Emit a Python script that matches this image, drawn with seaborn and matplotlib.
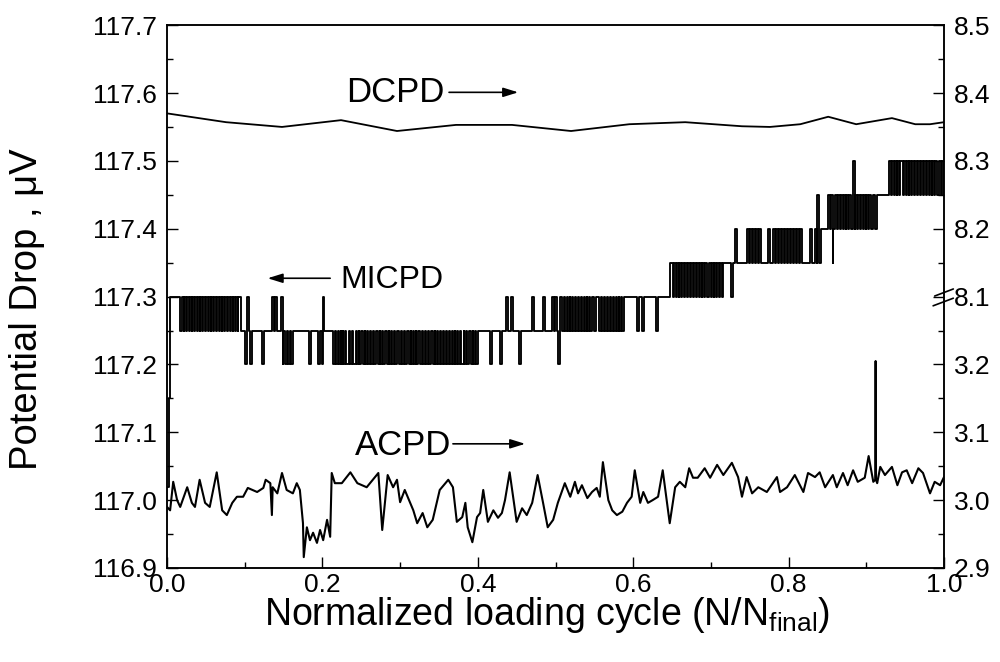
import matplotlib
matplotlib.use("Agg")
import matplotlib.pyplot as plt
import seaborn as sns
import pandas as pd

# ---------------- data ----------------
dcpd_x = [0.000, 0.076, 0.148, 0.224, 0.296, 0.372, 0.444, 0.520, 0.595, 0.667,
          0.740, 0.776, 0.815, 0.851, 0.887, 0.933, 0.963, 0.982, 1.000]
dcpd_y = [117.570, 117.557, 117.550, 117.560, 117.544, 117.553, 117.553, 117.544,
          117.554, 117.557, 117.551, 117.550, 117.554, 117.565, 117.554, 117.563,
          117.554, 117.554, 117.557]

acpd_x = [0.000, 0.004, 0.008, 0.013, 0.017, 0.026, 0.032, 0.036, 0.042, 0.049, 0.055,
          0.064, 0.071, 0.077, 0.084, 0.090, 0.098, 0.104, 0.116, 0.124, 0.127, 0.133,
          0.135, 0.136, 0.142, 0.148, 0.154, 0.162, 0.167, 0.171, 0.175, 0.176, 0.180,
          0.184, 0.188, 0.193, 0.197, 0.201, 0.206, 0.210, 0.212, 0.216, 0.225, 0.236,
          0.245, 0.257, 0.272, 0.277, 0.284, 0.291, 0.296, 0.300, 0.306, 0.317, 0.322,
          0.329, 0.335, 0.342, 0.351, 0.362, 0.368, 0.373, 0.380, 0.384, 0.387, 0.393,
          0.399, 0.403, 0.407, 0.413, 0.420, 0.426, 0.431, 0.435, 0.441, 0.450, 0.457,
          0.463, 0.470, 0.477, 0.484, 0.490, 0.497, 0.503, 0.512, 0.519, 0.525, 0.529,
          0.534, 0.541, 0.547, 0.553, 0.557, 0.561, 0.568, 0.573, 0.579, 0.586, 0.592,
          0.598, 0.602, 0.609, 0.613, 0.619, 0.625, 0.632, 0.638, 0.647, 0.654, 0.660,
          0.667, 0.672, 0.677, 0.683, 0.692, 0.699, 0.708, 0.716, 0.727, 0.735, 0.740,
          0.746, 0.753, 0.761, 0.772, 0.785, 0.789, 0.798, 0.808, 0.819, 0.825, 0.834,
          0.840, 0.847, 0.857, 0.862, 0.870, 0.876, 0.883, 0.889, 0.898, 0.903, 0.909,
          0.9115, 0.912, 0.9125, 0.914, 0.918, 0.924, 0.933, 0.940, 0.946, 0.952, 0.959,
          0.967, 0.973, 0.982, 0.988, 0.995, 1.000]
acpd_y = [116.990, 116.985, 117.027, 117.000, 116.990, 117.019, 116.996, 116.990, 117.030,
          116.996, 116.990, 117.041, 116.985, 116.978, 116.996, 117.005, 117.005, 117.018,
          117.012, 117.018, 117.030, 117.025, 116.978, 117.019, 117.010, 117.040, 117.015,
          117.010, 117.025, 117.015, 116.966, 116.916, 116.960, 116.941, 116.952, 116.937,
          116.956, 116.941, 116.971, 116.946, 117.040, 117.025, 117.025, 117.041, 117.025,
          117.019, 117.040, 116.956, 117.037, 117.019, 117.030, 116.997, 117.015, 116.985,
          116.966, 116.981, 116.960, 116.971, 117.015, 117.030, 117.019, 116.968, 116.975,
          116.996, 116.960, 116.938, 116.975, 116.981, 117.015, 116.968, 116.985, 116.974,
          116.981, 117.000, 117.041, 116.968, 116.988, 116.978, 116.996, 117.037, 116.996,
          116.960, 116.971, 116.996, 117.025, 117.005, 117.027, 117.010, 117.022, 117.003,
          117.012, 117.018, 117.005, 117.056, 117.000, 116.985, 116.978, 116.983, 116.996,
          117.005, 117.044, 116.996, 117.012, 116.996, 117.000, 117.005, 117.044, 116.966,
          117.019, 117.027, 117.019, 117.047, 117.033, 117.033, 117.047, 117.033, 117.052,
          117.037, 117.055, 117.034, 117.005, 117.034, 117.010, 117.019, 117.012, 117.034,
          117.012, 117.019, 117.037, 117.012, 117.040, 117.034, 117.041, 117.019, 117.037,
          117.019, 117.040, 117.022, 117.044, 117.027, 117.033, 117.065, 117.027,
          117.030, 117.205, 117.030, 117.025, 117.049, 117.037, 117.049, 117.022, 117.041,
          117.044, 117.025, 117.047, 117.040, 117.010, 117.027, 117.022, 117.034]

# MICPD: base levels (step starts) and short toggles
micpd_base_x = [0.000, 0.002, 0.004, 0.017, 0.506, 0.716, 0.842, 0.914]
micpd_base_y = [117.02, 117.15, 117.30, 117.25, 117.30, 117.35, 117.40, 117.45]

micpd_up_117_30 = [0.019, 0.022, 0.026, 0.029, 0.032, 0.036, 0.040, 0.043, 0.046, 0.050,
                   0.054, 0.057, 0.060, 0.064, 0.068, 0.071, 0.075, 0.078, 0.082, 0.085,
                   0.089, 0.092, 0.103, 0.135, 0.139, 0.147, 0.201, 0.436, 0.443, 0.470,
                   0.484, 0.495, 0.499]
micpd_dn_117_20 = [0.100, 0.107, 0.122, 0.149, 0.152, 0.156, 0.160, 0.183, 0.194, 0.199,
                   0.214, 0.218, 0.221, 0.224, 0.227, 0.231, 0.235, 0.240, 0.244, 0.247,
                   0.252, 0.255, 0.259, 0.263, 0.266, 0.271, 0.274, 0.278, 0.283, 0.286,
                   0.290, 0.294, 0.298, 0.302, 0.306, 0.311, 0.314, 0.318, 0.321, 0.326,
                   0.330, 0.333, 0.337, 0.342, 0.345, 0.349, 0.353, 0.356, 0.360, 0.364,
                   0.368, 0.371, 0.375, 0.379, 0.382, 0.386, 0.391, 0.394, 0.398, 0.416,
                   0.429, 0.453, 0.503]
micpd_dn_117_25 = [0.508, 0.512, 0.516, 0.519, 0.523, 0.527, 0.530, 0.534, 0.538, 0.541,
                   0.545, 0.549, 0.556, 0.560, 0.564, 0.567, 0.571, 0.575, 0.579, 0.582,
                   0.586, 0.605, 0.611, 0.629]
micpd_up_117_35 = [0.648, 0.652, 0.656, 0.659, 0.663, 0.667, 0.671, 0.674, 0.678, 0.682,
                   0.686, 0.689, 0.693, 0.697, 0.701, 0.704, 0.708, 0.712]
micpd_dn_117_30 = [0.726]
micpd_up_117_40 = [0.731, 0.746, 0.750, 0.754, 0.758, 0.762, 0.773, 0.780, 0.784, 0.788,
                   0.791, 0.795, 0.799, 0.803, 0.807, 0.811, 0.815, 0.828, 0.834]
micpd_dn_117_35 = [0.857]
micpd_up_117_45 = [0.837, 0.851, 0.855, 0.860, 0.863, 0.867, 0.871, 0.874, 0.878, 0.886,
                   0.889, 0.893, 0.897, 0.900, 0.904, 0.908]
micpd_up_117_50 = [0.883, 0.929, 0.933, 0.937, 0.940, 0.944, 0.948, 0.952, 0.955, 0.959,
                   0.963, 0.967, 0.970, 0.974, 0.978, 0.982, 0.985, 0.989, 0.993, 0.997]

left_ticks = [116.9, 117.0, 117.1, 117.2, 117.3, 117.4, 117.5, 117.6, 117.7]
left_labels = ["116.9", "117.0", "117.1", "117.2", "117.3", "117.4", "117.5", "117.6", "117.7"]
right_labels = ["2.9", "3.0", "3.1", "3.2", "8.1", "8.2", "8.3", "8.4", "8.5"]
x_ticks = [0.0, 0.2, 0.4, 0.6, 0.8, 1.0]
x_labels = ["0.0", "0.2", "0.4", "0.6", "0.8", "1.0"]

# --------------- build MICPD step series ---------------
def base_level(x):
    lvl = micpd_base_y[0]
    for bx, by in zip(micpd_base_x, micpd_base_y):
        if bx <= x:
            lvl = by
    return lvl

spike_w = 0.0026
pts = list(zip(micpd_base_x, micpd_base_y))
for xs, lvl in [(micpd_up_117_30, 117.30), (micpd_dn_117_20, 117.20), (micpd_dn_117_25, 117.25),
                (micpd_up_117_35, 117.35), (micpd_dn_117_30, 117.30), (micpd_up_117_40, 117.40),
                (micpd_dn_117_35, 117.35), (micpd_up_117_45, 117.45), (micpd_up_117_50, 117.50)]:
    for sx in xs:
        pts.append((sx, lvl))
        pts.append((sx + spike_w, base_level(sx)))
pts.sort(key=lambda p: p[0])
pts.append((1.0, pts[-1][1]))
mx, my = [], []
for i in range(len(pts) - 1):
    mx += [pts[i][0], pts[i + 1][0]]
    my += [pts[i][1], pts[i][1]]
micpd_df = pd.DataFrame({"x": mx, "y": my})
dcpd_df = pd.DataFrame({"x": dcpd_x, "y": dcpd_y})
acpd_df = pd.DataFrame({"x": acpd_x, "y": acpd_y})

# --------------- style ---------------
sns.set_theme(style="ticks")
plt.rcParams["font.family"] = ["Liberation Sans", "DejaVu Sans"]
plt.rcParams["mathtext.fontset"] = "custom"
plt.rcParams["mathtext.rm"] = "Liberation Sans"
plt.rcParams["mathtext.it"] = "Liberation Sans:italic"
plt.rcParams["mathtext.bf"] = "Liberation Sans:bold"
for key in ["text.color", "axes.labelcolor", "xtick.color", "ytick.color", "axes.edgecolor"]:
    plt.rcParams[key] = "black"

fig = plt.figure(figsize=(10, 6.62), dpi=100)
ax = fig.add_axes([0.167, 0.142, 0.944 - 0.167, 0.962 - 0.142])

sns.lineplot(data=dcpd_df, x="x", y="y", ax=ax, color="black", lw=1.3, estimator=None, sort=False)
sns.lineplot(data=acpd_df, x="x", y="y", ax=ax, color="black", lw=1.5, estimator=None, sort=False)
sns.lineplot(data=micpd_df, x="x", y="y", ax=ax, color="black", lw=1.35, estimator=None, sort=False)

ax.set_xlim(0, 1.0)
ax.set_ylim(116.9, 117.7)
ax.set_xticks(x_ticks)
ax.set_xticklabels(x_labels)
ax.set_xticks([0.1, 0.3, 0.5, 0.7, 0.9], minor=True)
ax.set_yticks(left_ticks)
ax.set_yticklabels(left_labels)
ax.set_yticks([116.95, 117.05, 117.15, 117.25, 117.35, 117.45, 117.55, 117.65], minor=True)
ax.set_xlabel("")
ax.set_ylabel("")

ax2 = ax.twinx()
ax2.set_ylim(116.9, 117.7)
ax2.set_yticks(left_ticks)
ax2.set_yticklabels(right_labels)
ax2.set_yticks([116.95, 117.05, 117.15, 117.25, 117.35, 117.45, 117.55, 117.65], minor=True)

for a in (ax, ax2):
    for s in a.spines.values():
        s.set_linewidth(1.1)
        s.set_color("black")
    a.tick_params(which="major", direction="in", length=8, width=1.0, labelsize=19, pad=7,
                  color="black", labelcolor="black")
    a.tick_params(which="minor", direction="in", length=4.5, width=1.0, color="black")
ax.tick_params(axis="x", which="major", pad=3.5)
ax.tick_params(axis="both", which="both", top=False, right=False)
ax2.tick_params(axis="y", which="both", left=False, right=True)

# axis break marks on the right spine
for (x0, y0, x1, y1) in [(0.988, 0.501, 1.012, 0.514), (0.986, 0.483, 1.012, 0.497)]:
    ax2.plot([x0, x1], [y0, y1], transform=ax2.transAxes, color="black", lw=1.2, clip_on=False)

# annotations
arrow_style = dict(arrowstyle="-|>,head_length=0.9,head_width=0.28", color="black",
                   lw=1.2, shrinkA=0, shrinkB=0, mutation_scale=10)
ax.text(0.3565, 117.601, "DCPD", fontsize=25, ha="right", va="center")
ax.annotate("", xy=(0.452, 117.601), xytext=(0.363, 117.601), arrowprops=arrow_style)
ax.text(0.2227, 117.324, "MICPD", fontsize=23, ha="left", va="center")
ax.annotate("", xy=(0.1295, 117.327), xytext=(0.210, 117.327), arrowprops=arrow_style)
ax.text(0.242, 117.080, "ACPD", fontsize=25, ha="left", va="center")
ax.annotate("", xy=(0.461, 117.083), xytext=(0.368, 117.083), arrowprops=arrow_style)

fig.text(0.547, 1 - 615 / 662, r"Normalized loading cycle (N/N$_{\mathrm{final}}$)",
         fontsize=27, ha="center", va="center")
fig.text(0.027, 1 - 309 / 662, "Potential Drop , \u03bcV", fontsize=27.5, rotation=90,
         ha="center", va="center")

fig.savefig("out.png", dpi=100)
